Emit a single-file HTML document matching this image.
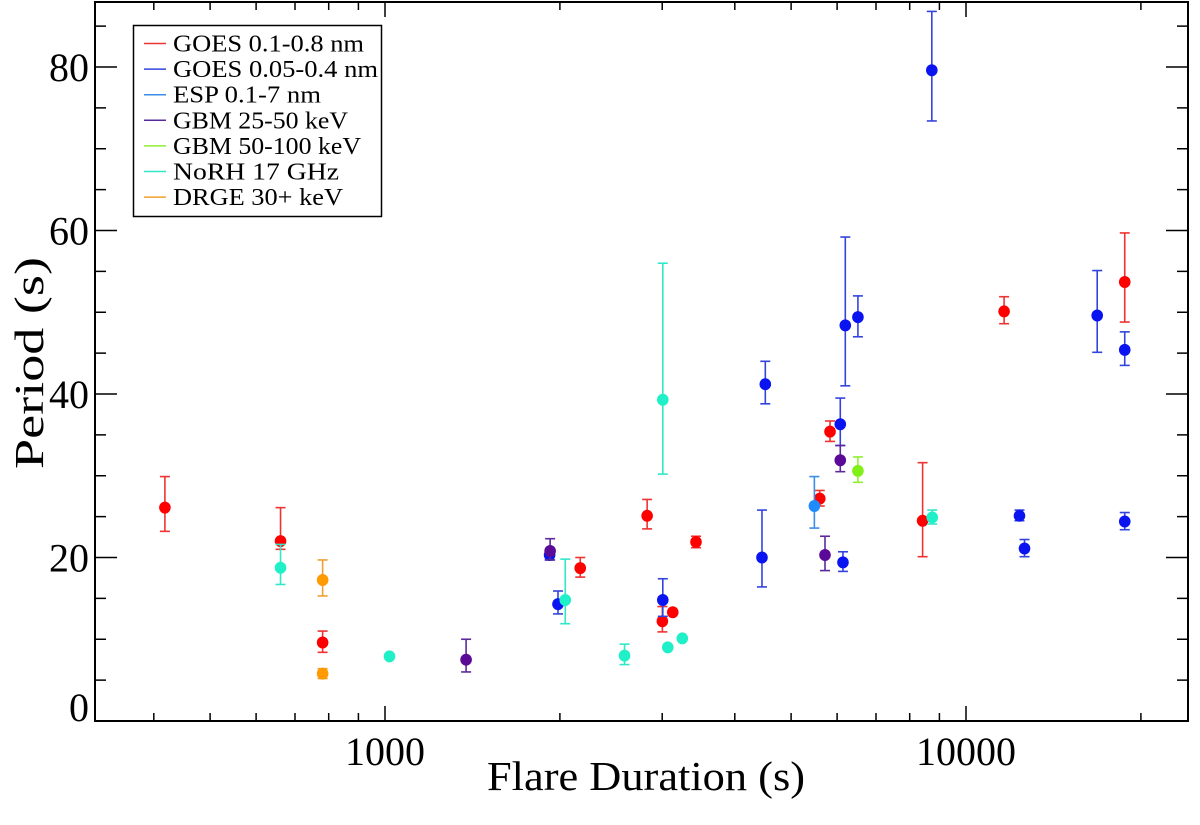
<!DOCTYPE html>
<html><head><meta charset="utf-8"><style>
html,body{margin:0;padding:0;background:#fff;}
svg{display:block;font-family:"Liberation Serif",serif;}
</style></head><body>
<svg id="chart" width="1200" height="825" viewBox="0 0 1200 825" xmlns="http://www.w3.org/2000/svg">
<rect x="0" y="0" width="1200" height="825" fill="#fff"/>
<g id="marks"></g>
<g id="axes"></g>
<text x="0" y="0" transform="translate(43,363) rotate(-90)" text-anchor="middle" font-size="41" textLength="212" lengthAdjust="spacingAndGlyphs">Period (s)</text>
<text x="646" y="790" text-anchor="middle" font-size="41" textLength="318" lengthAdjust="spacingAndGlyphs">Flare Duration (s)</text>
<g id="legend">
<rect x="133.5" y="25.5" width="248" height="191" fill="#fff" stroke="#000" stroke-width="1.5"/>
</g>
</svg>
<script>
// ---- data ----
const goesRedDur = [418, 661, 781, 2168, 2826, 3002, 3128, 3430, 5601, 5834, 8420, 11630, 18760];
const goesRedPer = [26.1, 22.0, 9.6, 18.7, 25.1, 12.2, 13.3, 21.9, 27.2, 35.4, 24.5, 50.1, 53.7];
const goesRedLo  = [23.2, 21.0, 8.4, 17.6, 23.5, 10.9, 13.3, 21.2, 26.3, 34.2, 20.1, 48.6, 48.8];
const goesRedHi  = [29.9, 26.1, 11.0, 20.0, 27.1, 14.0, 13.3, 22.6, 28.2, 36.7, 31.6, 51.9, 59.7];

const goesBlueDur = [8733, 4514, 6198, 6516, 16820, 18760, 6076, 3007, 4455, 6141, 12360, 12610, 18760, 1920, 1985];
const goesBluePer = [79.6, 41.2, 48.4, 49.4, 49.6, 45.4, 36.3, 14.8, 20.0, 19.4, 25.1, 21.1, 24.4, 20.3, 14.3];
const goesBlueLo  = [73.4, 38.8, 41.0, 47.0, 45.1, 43.5, 33.7, 12.8, 16.4, 18.3, 24.5, 20.1, 23.4, 19.7, 13.1];
const goesBlueHi  = [86.8, 44.0, 59.2, 52.0, 55.1, 47.6, 39.5, 17.4, 25.8, 20.7, 25.8, 22.2, 25.5, 20.9, 15.9];

const espDur = [5483];
const espPer = [26.3];
const espLo  = [23.6];
const espHi  = [29.9];

const gbmLowDur = [1379, 1924, 5719, 6076];
const gbmLowPer = [7.5, 20.8, 20.3, 31.9];
const gbmLowLo  = [6.0, 19.7, 18.4, 30.5];
const gbmLowHi  = [10.0, 22.3, 22.6, 33.7];

const gbmHighDur = [6516];
const gbmHighPer = [30.6];
const gbmHighLo  = [29.2];
const gbmHighHi  = [32.3];

const norhDur = [661, 1018, 2043, 2584, 3067, 3249, 3007, 8747];
const norhPer = [18.75, 7.9, 14.8, 8.0, 9.0, 10.1, 39.3, 24.9];
const norhLo  = [16.7, 7.9, 11.9, 6.9, 9.0, 10.1, 30.2, 24.1];
const norhHi  = [21.6, 7.9, 19.8, 9.4, 9.0, 10.1, 56.0, 25.8];

const drgeDur = [781, 781];
const drgePer = [17.25, 5.8];
const drgeLo  = [15.3, 5.2];
const drgeHi  = [19.7, 6.4];

const yTicks = [0, 20, 40, 60, 80];
const xMajorTicks = [1000, 10000];
const xMinorTicks = [400, 500, 600, 700, 800, 900, 2000, 3000, 4000, 5000, 6000, 7000, 8000, 9000, 20000];
const legendLabels = ["GOES 0.1-0.8 nm", "GOES 0.05-0.4 nm", "ESP 0.1-7 nm", "GBM 25-50 keV", "GBM 50-100 keV", "NoRH 17 GHz", "DRGE 30+ keV"];
const legendWidths = [191, 205, 148, 175, 188, 166, 170];

// ---- scales ----
const L = 95, R = 1188, T = 2, B = 721;
function xs(d){ return 385 + 581 * Math.log10(d / 1000); }
function ys(v){ return 721 - v * 8.175; }

const NS = "http://www.w3.org/2000/svg";
function mk(tag, attrs, parent){
  const e = document.createElementNS(NS, tag);
  for (const k in attrs) e.setAttribute(k, attrs[k]);
  parent.appendChild(e);
  return e;
}
const marks = document.getElementById('marks');
const axes = document.getElementById('axes');
const legend = document.getElementById('legend');

const series = [
  {name:"goes-0.1-0.8", dur:goesRedDur, per:goesRedPer, lo:goesRedLo, hi:goesRedHi, dot:"#ff0000", bar:"#ee3333"},
  {name:"goes-0.05-0.4", dur:goesBlueDur, per:goesBluePer, lo:goesBlueLo, hi:goesBlueHi, dot:"#0a14f0", bar:"#3344dd"},
  {name:"esp", dur:espDur, per:espPer, lo:espLo, hi:espHi, dot:"#1e8cff", bar:"#3a8ee6"},
  {name:"gbm-25-50", dur:gbmLowDur, per:gbmLowPer, lo:gbmLowLo, hi:gbmLowHi, dot:"#5a0a96", bar:"#5a2a9a"},
  {name:"gbm-50-100", dur:gbmHighDur, per:gbmHighPer, lo:gbmHighLo, hi:gbmHighHi, dot:"#80f018", bar:"#90f030"},
  {name:"norh-17ghz", dur:norhDur, per:norhPer, lo:norhLo, hi:norhHi, dot:"#20f0c8", bar:"#30e8c8"},
  {name:"drge-30kev", dur:drgeDur, per:drgePer, lo:drgeLo, hi:drgeHi, dot:"#ff9a00", bar:"#f0a030"}
];

series.forEach(s => {
  for (let i = 0; i < s.dur.length; i++) {
    const x = xs(s.dur[i]);
    const g = mk('g', {}, marks);
    
    
    if (s.hi[i] - s.lo[i] > 0.05) {
      const y1 = ys(s.hi[i]), y2 = ys(s.lo[i]);
      mk('line', {x1:x, x2:x, y1:y1, y2:y2, stroke:s.bar, 'stroke-width':1.6}, g);
      mk('line', {x1:x-5, x2:x+5, y1:y1, y2:y1, stroke:s.bar, 'stroke-width':1.6}, g);
      mk('line', {x1:x-5, x2:x+5, y1:y2, y2:y2, stroke:s.bar, 'stroke-width':1.6}, g);
    }
    mk('ellipse', {cx:x, cy:ys(s.per[i]), rx:5.8, ry:6, fill:s.dot}, g);
  }
});

// ---- axes frame ----
const frame = mk('rect', {x:L, y:T, width:R-L, height:B-T, fill:"none", stroke:"#000", 'stroke-width':2}, axes);



for (let v = 0; v <= 85; v += 5) {
  const y = ys(v);
  const major = v % 20 === 0;
  const len = major ? 22 : 11;
  mk('line', {x1:L, x2:L+len, y1:y, y2:y, stroke:"#000", 'stroke-width':1.5}, axes);
  mk('line', {x1:R-len, x2:R, y1:y, y2:y, stroke:"#000", 'stroke-width':1.5}, axes);
}
yTicks.forEach(v => {
  const t = mk('text', {x:89, y:ys(v) + 14 - (v === 0 ? 14 : 0), 'text-anchor':'end', 'font-size':40}, axes);
  t.textContent = String(v);
  
  
});
xMajorTicks.forEach(d => {
  const x = xs(d);
  mk('line', {x1:x, x2:x, y1:B, y2:B-15, stroke:"#000", 'stroke-width':1.5}, axes);
  mk('line', {x1:x, x2:x, y1:T, y2:T+15, stroke:"#000", 'stroke-width':1.5}, axes);
  const t = mk('text', {x:x, y:765, 'text-anchor':'middle', 'font-size':40}, axes);
  t.textContent = String(d);
  
  
});
xMinorTicks.forEach(d => {
  const x = xs(d);
  mk('line', {x1:x, x2:x, y1:B, y2:B-8, stroke:"#000", 'stroke-width':1.5}, axes);
  mk('line', {x1:x, x2:x, y1:T, y2:T+8, stroke:"#000", 'stroke-width':1.5}, axes);
});

legendLabels.forEach((lab, i) => {
  const y = 43.5 + i * 25.6;
  const g = mk('g', {}, legend);
  
  
  mk('line', {x1:144, x2:166, y1:y, y2:y, stroke:series[i].bar, 'stroke-width':1.5}, g);
  const t = mk('text', {x:173, y:y + 8, 'font-size':24, textLength:legendWidths[i], lengthAdjust:'spacingAndGlyphs'}, g);
  t.textContent = lab;
});
</script>
</body></html>
